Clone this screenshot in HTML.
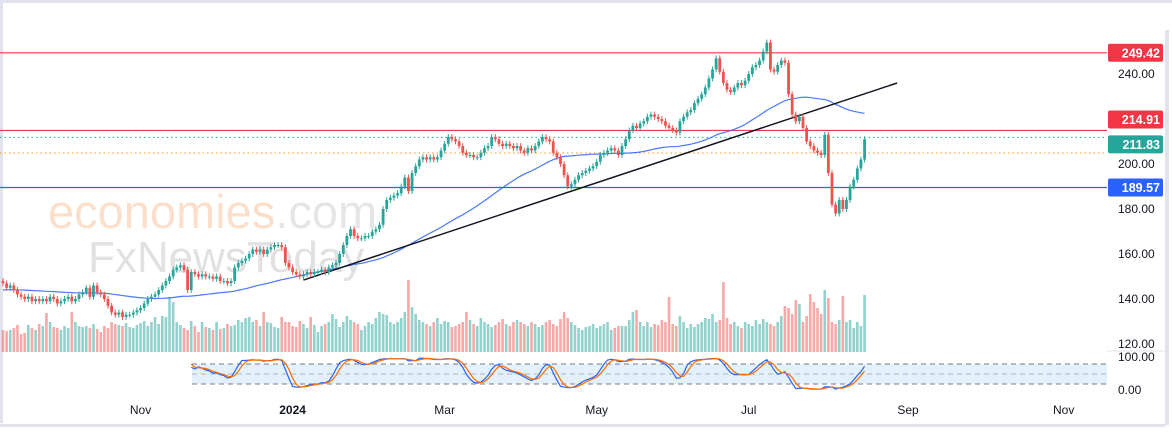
<!DOCTYPE html>
<html><head><meta charset="utf-8">
<style>
html,body{margin:0;padding:0;background:#fff;}
body{width:1172px;height:430px;overflow:hidden;font-family:"Liberation Sans",sans-serif;}
svg text{font-family:"Liberation Sans",sans-serif;}
</style></head>
<body>
<svg id="chart" width="1172" height="430" xmlns="http://www.w3.org/2000/svg">
  <rect x="0" y="0" width="1172" height="430" fill="#fff"/>
  <rect x="0" y="0" width="1172" height="3" fill="#e0e3eb"/>
  <rect x="1165" y="30" width="4" height="395" fill="#e0e3eb"/>
  <rect x="0" y="424" width="1165" height="3" fill="#e0e3eb"/>
  <rect x="0" y="3" width="3" height="420" fill="#e0e3eb"/>
  <g>
    <text x="48" y="228" font-size="47" fill="#f9cfae" opacity="0.65">economies<tspan fill="#d8d8d8">.com</tspan></text>
    <text x="88" y="272" font-size="44" fill="#d5d5d5" opacity="0.7">FxNewsToday</text>
  </g>
  <g id="stochBg">
    <rect x="192" y="364" width="915" height="20" fill="#e3f1fc"/>
    <line x1="192" y1="364" x2="1107" y2="364" stroke="#787b86" stroke-dasharray="5,4"/>
    <line x1="192" y1="374" x2="1107" y2="374" stroke="#b2b5be" stroke-dasharray="5,4"/>
    <line x1="192" y1="384" x2="1107" y2="384" stroke="#787b86" stroke-dasharray="5,4"/>
  </g>
  <line x1="1107" y1="351" x2="1165" y2="351" stroke="#e0e3eb"/>
  <g id="vol"></g>
  <g id="levels"></g>
  <g id="ma"></g>
  <g id="trend"></g>
  <g id="candles"></g>
  <g id="stoch"></g>
  <g id="yaxis"></g>
  <g id="xaxis"></g>
</svg>
<script>
const closes = [
147,145,146,144,142,141,140,141,139,140,
139,140,139,141,140,138,139,140,141,139,
140,142,143,145,141,146,143,142,140,137,
134,133,134,132,133,133,134,135,136,138,
140,141,142,144,146,148,150,153,154,155,
153,144,152,151,150,151,150,150,149,150,
148,148,147,148,154,156,157,158,160,162,
161,162,160,162,163,164,164,163,156,154,
152,151,150,151,152,151,152,152,153,152,
154,155,156,160,164,168,171,168,167,167,
168,168,170,171,173,180,184,185,186,187,
190,194,188,196,199,202,203,202,203,202,
203,206,209,212,211,210,208,205,204,204,
203,203,205,207,208,212,211,209,208,209,
208,207,208,206,205,207,206,208,210,212,
211,210,205,203,200,195,190,191,193,195,
196,197,198,199,201,204,205,206,207,206,
204,208,211,215,217,216,218,219,221,222,
221,220,219,217,216,215,214,219,221,223,
224,227,229,231,234,238,242,247,241,236,
233,232,234,236,235,237,240,243,244,246,
250,254,242,241,244,246,245,231,222,219,
221,216,210,208,206,205,204,213,196,182,
178,184,180,184,190,193,198,202,211];
const volumes = [
22,21,22,24,27,18,19,27,24,22,
28,26,39,30,25,24,22,26,24,40,
30,26,25,26,24,28,23,20,26,24,
30,28,27,26,29,25,24,27,29,31,
26,30,35,28,36,35,55,50,30,27,
24,22,31,26,20,30,25,24,22,30,
23,24,28,26,27,32,30,34,35,30,
32,26,40,30,29,25,24,35,30,30,
26,25,31,28,24,35,27,20,26,28,
30,38,33,25,30,36,32,30,28,22,
26,30,28,34,40,38,37,30,28,30,
34,40,72,45,38,32,30,28,26,30,
34,28,31,30,25,26,28,30,40,32,
28,26,34,30,28,25,27,30,33,28,
26,30,32,30,28,26,30,28,25,27,
30,32,28,26,33,40,34,30,27,24,
22,25,26,28,24,26,28,30,22,24,
26,26,26,32,40,42,30,26,30,25,
28,27,32,30,55,28,26,36,30,24,
28,25,28,30,34,33,38,30,32,70,
34,28,30,26,24,30,28,26,32,28,
33,30,28,26,30,36,46,44,38,52,
48,30,36,58,50,44,38,62,54,30,
28,32,56,30,32,24,30,26,57];
const yTicks = [240,200,180,160,140,120];
const xLabels = ["Nov","2024","Mar","May","Jul","Sep","Nov"];
const xLabelBars = [38,80,122,164,206,250,293];
const levelPrices = [249.42,214.91,189.57];
const levelNames = ["resistance-249","resistance-214","support-189"];
const lastPrice = 211.83;
const dottedOrange = 204.9;
const trendBars = [83,247];
const trendPrices = [148.4,236];
const maPeriod = 50;
const maSeed = 144;

const NS="http://www.w3.org/2000/svg";
const X0=3, STEP=3.62, PRICE_RIGHT=1107;
const xOf = i => X0 + i*STEP;
const yOf = p => 164 - (p-200)*2.25;
const VOL_BASE=352;
const stY = v => 390 - v*0.33;
function mk(tag, attrs, parent){const e=document.createElementNS(NS,tag);for(const k in attrs)e.setAttribute(k,attrs[k]);parent.appendChild(e);return e;}
const G=id=>document.getElementById(id);
const GREEN="#26a69a", RED="#ef5350";

const levelColors=["#f23645","#f23645","#2962ff"];
levelPrices.forEach((p,k)=>{
  const l=mk('line',{x1:0,y1:yOf(p),x2:PRICE_RIGHT,y2:yOf(p),stroke:levelColors[k],'stroke-width':1.2},G('levels'));
  
  
});
let dl=mk('line',{x1:0,y1:yOf(lastPrice),x2:PRICE_RIGHT,y2:yOf(lastPrice),stroke:GREEN,'stroke-dasharray':'1.5,3'},G('levels'));


let ol=mk('line',{x1:0,y1:yOf(dottedOrange),x2:PRICE_RIGHT,y2:yOf(dottedOrange),stroke:"#f7931a",'stroke-dasharray':'1.5,3'},G('levels'));



closes.forEach((c,i)=>{
  const o = i===0 ? c+1 : closes[i-1];
  const up = c>=o;
  const col = up?GREEN:RED;
  const x=xOf(i);
  const hi=Math.max(o,c)+1.3, lo=Math.min(o,c)-1.3;
  const w=mk('line',{x1:x,y1:yOf(hi),x2:x,y2:yOf(lo),stroke:col,'stroke-width':1},G('candles'));
  
  
  const top=yOf(Math.max(o,c)), bot=yOf(Math.min(o,c));
  const b=mk('rect',{x:x-1.4,y:top,width:2.8,height:Math.max(1,bot-top),fill:col},G('candles'));
  
  
  const v=volumes[i];
  const vb=mk('rect',{x:x-1.3,y:VOL_BASE-v,width:2.6,height:v,fill:up?"#26a69a":"#ef5350",opacity:0.5},G('vol'));
  
  
});

const padded = Array(maPeriod).fill(maSeed).concat(closes);
let pts=[];
closes.forEach((c,i)=>{
  let s=0;for(let k=i+1;k<=i+maPeriod;k++)s+=padded[k];
  pts.push(xOf(i)+','+yOf(s/maPeriod));
});
let mal=mk('polyline',{points:pts.join(' '),fill:'none',stroke:'#2962ff','stroke-width':1.2,opacity:0.85},G('ma'));



let tl=mk('line',{x1:xOf(trendBars[0]),y1:yOf(trendPrices[0]),x2:xOf(trendBars[1]),y2:yOf(trendPrices[1]),stroke:'#131722','stroke-width':1.5},G('trend'));



const N=14;
let raw=closes.map((c,i)=>{
  const s=closes.slice(Math.max(0,i-N+1),i+1);
  const hi=Math.max(...s)+1.3, lo=Math.min(...s)-1.3;
  return (c-lo)/(hi-lo)*100;
});
const sma=(a,n)=>a.map((_,i)=>{const s=a.slice(Math.max(0,i-n+1),i+1);return s.reduce((x,y)=>x+y,0)/s.length;});
const K=sma(raw,3), D=sma(K,3);
const START=52;
const kp=[],dp=[];
for(let i=START;i<closes.length;i++){kp.push(xOf(i)+','+stY(K[i]));dp.push(xOf(i)+','+stY(D[i]));}
let kl=mk('polyline',{points:kp.join(' '),fill:'none',stroke:'#2962ff','stroke-width':1.2},G('stoch'));


let dl2=mk('polyline',{points:dp.join(' '),fill:'none',stroke:'#ff6d00','stroke-width':1.2},G('stoch'));



yTicks.forEach(t=>{
  const tx=mk('text',{x:1118,y:yOf(t)+4,'font-size':12,fill:'#131722'},G('yaxis'));
  tx.textContent=t.toFixed(2);
  
  
});
[["100.00",361],["0.00",394]].forEach(a=>{
  const tx=mk('text',{x:1118,y:a[1],'font-size':12,fill:'#131722'},G('yaxis'));
  tx.textContent=a[0];
  
  
});
// tag offsets avoid overlap (label stacking, not data)
const tags=[[249.42,"#f23645",0],[214.91,"#f23645",-11],[lastPrice,GREEN,7],[189.57,"#2962ff",0]];
tags.forEach(t=>{
  const y=yOf(t[0])+t[2];
  const r=mk('rect',{x:1108,y:y-9,width:55,height:18,rx:2,fill:t[1]},G('yaxis'));
  
  
  const tx=mk('text',{x:1160,y:y+4.5,'font-size':12.5,'font-weight':'bold',fill:'#fff','text-anchor':'end'},G('yaxis'));
  tx.textContent=t[0].toFixed(2);
  
  
});

xLabels.forEach((l,k)=>{
  const tx=mk('text',{x:xOf(xLabelBars[k]),y:414,'font-size':12,fill:'#131722','text-anchor':'middle','font-weight':l==="2024"?'bold':'normal'},G('xaxis'));
  tx.textContent=l;
  
  
});
</script>
</body></html>
